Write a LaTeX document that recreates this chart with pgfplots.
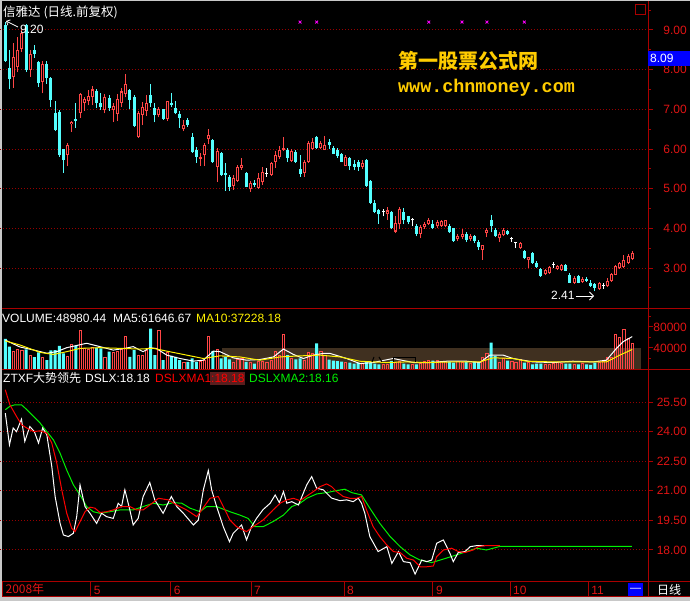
\documentclass[border=0pt]{standalone}
\usepackage{fontspec}
\setmainfont{Liberation Sans}
\newfontfamily\cjk{Noto Sans CJK SC}
\newfontfamily\monob{Liberation Mono}
\usepackage{pgfplots}
\pgfplotsset{compat=1.18}
\usepackage{pgfplotstable}
\usetikzlibrary{arrows.meta}

\definecolor{upred}{RGB}{255,70,70}
\definecolor{dncyan}{RGB}{84,255,255}
\definecolor{axred}{RGB}{170,0,0}
\definecolor{gridred}{RGB}{150,0,0}
\definecolor{lblred}{RGB}{225,20,20}
\definecolor{band}{RGB}{64,48,32}
\definecolor{wmyellow}{RGB}{255,204,0}
\definecolor{lgreen}{RGB}{0,240,0}
\definecolor{mag}{RGB}{255,0,255}
\definecolor{framegray}{RGB}{200,200,200}
\definecolor{boxblue}{RGB}{0,0,255}
\definecolor{hibox}{RGB}{90,30,30}

% i O H L C V   (up / red candles)
\pgfplotstableread{
i O H L C V
2 7.82 8.67 7.54 8.32 33000
3 8.07 8.82 7.94 8.50 37400
4 8.52 9.00 8.45 8.92 34800
6 8.00 8.50 7.82 8.40 26400
9 7.70 8.22 7.40 8.14 21300
15 5.85 6.15 5.57 6.10 23200
16 6.62 6.70 6.43 6.68 47100
18 6.90 7.40 6.78 7.38 72900
19 7.16 7.30 6.96 7.26 39300
20 7.20 7.48 7.10 7.33 38100
21 7.30 7.60 7.10 7.50 40600
24 6.99 7.38 6.90 7.30 22600
26 6.98 7.16 6.68 7.08 31600
27 6.88 7.38 6.70 7.26 32900
28 7.16 7.55 7.05 7.45 38100
29 7.39 7.90 7.30 7.64 61900
32 6.30 6.95 6.28 6.90 26400
33 6.86 7.18 6.60 7.05 26400
34 6.96 7.35 6.84 7.15 36100
37 6.85 7.05 6.80 7.00 72900
39 6.76 7.22 6.70 7.20 31600
43 6.50 6.72 6.45 6.60 13500
47 5.75 5.90 5.57 5.80 14800
48 5.85 6.15 5.57 6.10 16800
49 6.25 6.50 6.13 6.35 61900
51 5.55 6.03 5.17 5.95 38100
55 5.07 5.35 4.97 5.28 13500
56 5.20 5.60 5.18 5.55 18100
57 5.53 5.78 5.48 5.60 20000
59 4.98 5.20 4.92 5.15 13500
61 5.02 5.40 5.00 5.27 14800
62 5.16 5.55 5.10 5.43 14800
64 5.35 5.67 5.33 5.65 16800
65 5.68 5.95 5.53 5.85 34200
66 5.80 6.07 5.75 5.98 26400
67 5.98 6.30 5.95 6.03 66400
69 5.70 6.00 5.68 5.95 20000
72 5.40 5.72 5.30 5.68 16800
73 5.67 6.20 5.65 6.15 31600
74 6.00 6.27 5.98 6.18 29700
76 6.03 6.20 6.00 6.15 32900
77 5.98 6.33 5.97 6.10 25000
82 5.58 5.85 5.57 5.80 13000
86 5.55 5.73 5.50 5.65 11000
92 4.36 4.53 4.22 4.45 8000
94 3.92 4.30 3.88 4.14 12000
95 4.10 4.55 3.98 4.50 14000
100 3.86 4.08 3.75 4.03 10000
101 4.03 4.15 3.98 4.11 14000
102 4.12 4.25 4.08 4.20 16000
104 4.05 4.22 4.00 4.15 17000
105 4.05 4.22 4.03 4.18 14000
106 4.05 4.22 4.03 4.20 15000
109 3.72 3.85 3.67 3.80 14000
110 3.78 3.98 3.72 3.86 12000
112 3.72 3.85 3.67 3.80 11000
115 3.46 3.58 3.21 3.58 23000
116 3.88 4.01 3.78 3.96 30000
119 3.75 3.90 3.66 3.86 13500
120 3.82 4.00 3.80 3.95 20000
124 3.50 3.66 3.48 3.62 18000
126 3.20 3.28 3.00 3.28 12000
130 2.85 2.98 2.82 2.95 8000
131 2.88 3.06 2.86 3.02 8000
133 2.97 3.08 2.95 3.05 12000
134 2.95 3.10 2.93 3.08 11000
137 2.63 2.80 2.60 2.76 8000
139 2.65 2.78 2.63 2.72 10000
143 2.48 2.65 2.45 2.62 12000
145 2.54 2.75 2.52 2.68 22000
146 2.67 2.88 2.65 2.85 23000
147 2.83 3.08 2.82 3.05 66000
148 3.00 3.15 2.98 3.13 60000
149 3.03 3.32 3.00 3.20 75000
150 3.13 3.35 3.10 3.30 59000
151 3.23 3.42 3.20 3.38 48980
}\upT

% down / cyan candles
\pgfplotstableread{
i O H L C V
0 9.13 9.20 8.20 8.22 57400
1 8.04 8.50 7.50 7.77 42600
5 9.12 9.15 7.95 7.99 37400
7 8.50 8.62 8.30 8.40 22600
8 8.20 8.22 7.57 7.67 31600
10 8.14 8.22 7.65 7.80 16800
11 7.80 7.82 7.06 7.24 35500
12 6.90 7.20 6.45 6.48 36100
13 6.94 6.98 5.80 5.85 43900
14 6.00 6.00 5.40 5.72 29700
17 6.75 7.15 6.53 6.70 43900
22 7.47 7.50 7.03 7.16 40600
23 7.16 7.40 6.99 7.06 39300
25 7.29 7.36 6.97 7.04 32900
30 7.49 7.50 7.00 7.24 23200
31 7.32 7.35 6.55 6.58 36100
35 7.36 7.64 7.06 7.16 76800
36 7.03 7.15 6.67 6.85 26400
38 7.00 7.02 6.74 6.75 16800
40 7.16 7.42 7.05 7.12 25200
41 7.03 7.20 6.87 6.90 23200
42 6.88 6.97 6.53 6.78 16800
44 6.74 6.77 6.56 6.60 13500
45 6.30 6.40 5.90 5.93 20000
46 5.98 6.05 5.65 5.80 13500
50 6.23 6.25 5.65 5.67 34200
52 5.90 5.92 5.33 5.35 20000
53 5.40 5.65 4.95 5.35 23200
54 5.30 5.35 4.95 5.05 18100
58 5.40 5.42 5.03 5.05 13500
60 5.14 5.23 5.05 5.10 10300
68 5.97 6.02 5.67 5.78 26400
70 5.93 5.98 5.65 5.68 18100
71 5.50 5.85 5.30 5.37 20000
75 6.30 6.32 6.00 6.03 49000
78 6.17 6.25 6.00 6.10 18000
79 6.02 6.08 5.87 5.88 16000
80 5.97 6.02 5.78 5.83 15000
81 5.88 5.90 5.66 5.68 14000
83 5.77 5.80 5.47 5.58 12000
84 5.63 5.73 5.47 5.55 10000
85 5.66 5.73 5.45 5.55 12000
87 5.72 5.74 5.05 5.07 14000
88 5.20 5.22 4.62 4.64 12000
89 4.64 4.72 4.38 4.42 10000
90 4.47 4.48 4.12 4.35 9000
93 4.42 4.44 3.98 4.00 15000
96 4.40 4.52 4.10 4.22 10000
97 4.30 4.32 4.10 4.15 9000
99 4.07 4.12 3.80 3.86 9000
103 4.12 4.20 3.98 4.00 16000
107 4.05 4.10 3.88 3.90 14000
108 4.00 4.02 3.66 3.68 12000
111 3.86 3.90 3.65 3.70 14000
113 3.80 3.83 3.62 3.68 14000
114 3.66 3.71 3.46 3.53 12000
117 4.20 4.34 3.90 4.05 50000
118 3.97 4.00 3.78 3.80 25000
121 3.93 3.95 3.83 3.85 16000
125 3.42 3.45 3.22 3.24 12000
127 3.38 3.40 3.11 3.13 9000
128 3.12 3.18 3.00 3.03 10000
129 2.97 2.99 2.78 2.80 10000
135 3.08 3.10 2.92 2.93 10000
136 2.83 2.87 2.62 2.63 10000
138 2.80 2.82 2.61 2.63 9000
140 2.72 2.78 2.65 2.68 9000
141 2.62 2.70 2.52 2.55 8000
142 2.60 2.62 2.41 2.50 12000
}\dnT

% unchanged (doji) candles
\pgfplotstableread{
i O H L C V
63 5.37 5.52 5.30 5.37 13500
91 4.40 4.50 4.30 4.40 8000
98 4.20 4.25 4.05 4.20 8000
122 3.72 3.78 3.65 3.72 14000
123 3.62 3.66 3.50 3.62 12000
132 3.08 3.15 3.00 3.08 10000
144 2.55 2.62 2.48 2.55 15000
}\flT

\pgfplotsset{
  panel/.style={
    scale only axis, width=648pt, anchor=south west,
    xmin=-1.276, xmax=154.8,
    axis line style={draw=none},
    xtick=\empty,
    ytick pos=right, yticklabel pos=right,
    tick align=outside,
    major tick length=5pt, minor tick length=3pt,
    tick style={axred, line width=1pt},
    yticklabel style={anchor=east, inner sep=0pt, text=lblred,
      font=\fontsize{12}{14}\selectfont, xshift=34pt},
    /pgf/number format/assume math mode=true,
    major grid style={gridred, line width=1pt, dash pattern=on 1pt off 2pt},
  },
  wick/.style={draw=none, mark=none, forget plot,
    error bars/.cd, y dir=plus, y explicit, error mark=none,
    error bar style={draw=#1, line width=1pt}},
  body/.style={draw=none, mark=none, forget plot,
    error bars/.cd, y dir=plus, y explicit, error mark=none,
    error bar style={draw=#1, line width=3pt}},
  hollow/.style={draw=none, mark=none, forget plot,
    error bars/.cd, y dir=plus, y explicit, error mark=none,
    error bar style={draw=black, line width=1pt}},
}

\begin{document}
\begin{tikzpicture}
\useasboundingbox (0pt,0pt) rectangle (690pt,601pt);
\fill[framegray] (0pt,0pt) rectangle (690pt,601pt);
\fill[black] (2pt,4pt) rectangle (690pt,600pt);

% ---------------- price panel ----------------
\begin{axis}[panel, at={(0pt,292pt)}, height=308pt,
  ymin=1.967, ymax=9.731,
  ytick={3,4,5,6,7,8,9}, minor ytick={2.5,3.5,4.5,5.5,6.5,7.5,8.5,9.5},
  ymajorgrids,
  yticklabel style={/pgf/number format/.cd, fixed, fixed zerofill, precision=2}]
\addplot[wick=upred] table[x=i, y=L, y error expr=\thisrow{H}-\thisrow{L}] {\upT};
\addplot[wick=dncyan] table[x=i, y=L, y error expr=\thisrow{H}-\thisrow{L}] {\dnT};
\addplot[wick=white] table[x=i, y=L, y error expr=\thisrow{H}-\thisrow{L}] {\flT};
\addplot[body=upred] table[x=i, y=O, y error expr=\thisrow{C}-\thisrow{O}] {\upT};
\addplot[hollow] table[x=i, y expr=\thisrow{O}+0.026, y error expr={max(\thisrow{C}-\thisrow{O}-0.052,0)}] {\upT};
\addplot[body=dncyan] table[x=i, y=C, y error expr=\thisrow{O}-\thisrow{C}] {\dnT};
\addplot[body=white] table[x=i, y=C, y error expr=0.026] {\flT};
\addplot[only marks, mark=x, mark size=2pt, mag, line width=0.8pt]
  coordinates {(71,9.2) (75,9.2) (102,9.2) (110,9.2) (116,9.2) (125,9.2)};
\end{axis}

% ---------------- volume panel ----------------
\begin{axis}[panel, at={(0pt,232pt)}, height=60pt,
  ymin=0, ymax=114300,
  ytick={40000,80000}, minor ytick={20000,60000,100000},
  scaled y ticks=false,
  yticklabel style={/pgf/number format/.cd, fixed, 1000 sep={}}]
\addplot[fill=band, draw=none, forget plot] coordinates {(52.2,40000) (153.1,40000)} \closedcycle;
\addplot[ybar, bar width=3pt, bar shift=0pt, draw=none, fill=dncyan] table[x=i, y=V] {\dnT};
\addplot[ybar, bar width=2.2pt, bar shift=0pt, draw=upred, line width=0.8pt, fill=none] table[x=i, y=V] {\upT};
\addplot[ybar, bar width=2.2pt, bar shift=0pt, draw=upred, line width=0.8pt, fill=none] table[x=i, y=V] {\flT};
\addplot[white, line width=1pt, mark=none] coordinates {
(0,55000) (3.5,42000) (6.9,36000) (10,30000) (12.4,33000) (14.8,40600) (19.6,49000)
(22.8,42600) (26,36000) (28.8,39300) (30.8,42600) (33.2,33000) (34.8,40600) (36.4,39000)
(38.9,26400) (42.1,20000) (45.3,15000) (47.7,16800) (50.1,34000) (51.7,33000) (54.9,21300)
(58.1,16800) (61.3,18000) (64.6,23000) (67,38000) (69.4,27700) (71.8,20000) (74.2,26400)
(76.6,29700) (78.2,29700) (82.2,20000) (85.4,10300) (88.6,12300) (93.4,20000) (98.3,12300)
(102.3,12300) (106.3,14800) (111.1,14800) (114.3,12300) (116.7,26400) (119.9,26400)
(122.3,20000) (127.1,13500) (131.9,12300) (136.7,14800) (141.6,13500) (144.8,16800)
(147.2,39300) (148.8,52000) (151,61647)};
\addplot[yellow, line width=1pt, mark=none] coordinates {
(0,53500) (3.5,45800) (8.4,31600) (11.6,27700) (14.8,33000) (18,39300) (22.8,40600)
(27.6,39300) (32.4,38000) (35.7,39300) (38.9,34000) (43.7,26400) (47.7,20000) (51.7,25000)
(56.5,23000) (61.3,16800) (66.2,23000) (71,25000) (75.8,26400) (80.6,23000) (85.4,14800)
(91.8,12300) (96.7,13500) (101.5,12300) (107.9,13500) (114.3,13500) (117.5,21300)
(122.3,20000) (125.6,14800) (131.9,13500) (139.9,13500) (144.8,13500) (148,26400) (151,37228)};
\end{axis}

% ---------------- indicator panel ----------------
\begin{axis}[panel, at={(0pt,19pt)}, height=212pt,
  ymin=16.378, ymax=27.123,
  ytick={18,19.5,21,22.5,24,25.5},
  ymajorgrids,
  yticklabel style={/pgf/number format/.cd, fixed, fixed zerofill, precision=2}]
\addplot[lgreen, line width=1pt, mark=none] coordinates {
(0,25.11) (1.1,25.28) (2.3,25.36) (3.9,25.36) (5.2,25.11) (6.8,24.77) (8.4,24.43) (10,24.0)
(11.6,23.58) (13.2,22.9) (14.8,22.05) (16.4,21.3) (18,20.79) (19.6,20.2) (21.2,19.94)
(22.8,19.86) (25.2,19.94) (27.6,20.03) (30.8,20.03) (33.2,20.2) (35.6,20.37) (38,20.28)
(40.5,20.4) (42.5,20.37) (44.5,20.12) (46.9,19.94) (48.5,20.2) (50.9,20.2) (54.1,19.94)
(56.5,19.77) (58.5,19.6) (60.1,19.18) (62.1,19.18) (64.5,19.44) (67,19.77) (69,20.2)
(71,20.37) (72.6,20.62) (75,20.84) (77.4,20.91) (79.8,21.01) (81.8,21.08) (83.4,20.91)
(85.8,20.79) (87.8,20.12) (90.2,19.35) (92.7,18.68) (95.1,18.17) (97.5,17.75) (99.9,17.49)
(102.7,17.36) (105.5,17.54) (108.7,17.75) (111.1,17.92) (113.5,18.09) (115.9,18.0)
(117.5,18.09) (119.1,18.18) (150.9,18.18)};
\addplot[white, line width=1pt, mark=none] coordinates {
(0,24.94) (1,23.33) (1.9,24.18) (2.7,24.0) (3.9,24.63) (4.7,23.5) (5.9,24.26) (7,24.0)
(8,23.42) (9,24.18) (10,23.84) (11.2,22.23) (12,20.71) (13.2,19.35) (14,18.76) (15.2,18.68)
(16.4,18.85) (17.2,19.69) (18,21.3) (19.2,20.2) (20.4,19.86) (22,19.35) (23.2,19.86)
(24.4,19.69) (26,19.6) (27.2,20.37) (28,20.2) (28.8,21.05) (30,20.03) (30.8,19.27) (32,19.6)
(33.2,20.71) (34.8,21.42) (36,20.54) (38,19.86) (40,20.71) (41.3,20.2) (42.9,19.86)
(45.3,19.27) (46.5,19.52) (47.7,21.05) (48.9,22.03) (49.7,21.05) (50.9,20.2) (52.5,19.18)
(54,18.42) (54.9,18.85) (56.9,19.27) (58.1,18.51) (59.3,19.18) (60.5,19.6) (62.1,20.05)
(63.8,20.37) (65,20.79) (66,20.4) (67,20.96) (67.8,20.37) (69,20.45) (70.6,20.28)
(72.6,21.3) (73.8,21.72) (75,21.13) (76.6,21.05) (78.6,20.63) (80.6,20.5) (82.2,20.54)
(83.8,20.45) (85,20.63) (85.8,20.37) (86.6,19.86) (87.8,18.68) (89.8,17.92) (91.9,18.17)
(93.1,17.32) (94.7,17.92) (95.9,17.41) (97.5,17.36) (98.7,16.78) (100.3,17.49) (101.5,17.41)
(102.7,17.49) (103.9,18.34) (105.5,18.51) (107.1,17.83) (107.9,17.41) (109.1,17.87)
(110.7,17.92) (112,18.17) (113.5,18.22) (115.5,18.22)};
\addplot[red, line width=1pt, mark=none] coordinates {
(0,26.12) (1.1,25.36) (2.7,24.77) (3.9,24.35) (5.2,24.18) (6.8,24.0) (8.4,24.04) (10,23.92)
(11.2,23.42) (12.4,22.4) (13.6,21.05) (14.8,19.86) (16,19.1) (16.8,18.93) (18,19.44)
(19.2,19.94) (20.4,20.17) (21.6,20.12) (22.8,19.9) (24.4,19.94) (26,20.03) (28,20.2)
(30,20.2) (31.6,20.03) (33.2,20.03) (34.8,20.28) (36.9,20.62) (39.3,20.54) (41.3,20.28)
(43.7,20.03) (46.1,19.69) (47.3,20.03) (49.3,20.62) (51.3,20.71) (52.5,20.2) (54.1,19.52)
(55.7,19.18) (58.1,18.93) (59.7,19.18) (62.1,19.52) (64.5,20.03) (66.2,20.37) (67.8,20.54)
(69.4,20.62) (71,20.5) (74.2,20.96) (75.8,21.21) (77.4,21.35) (78.6,21.21) (79.8,20.96)
(81.4,20.71) (83,20.62) (84.6,20.62) (85.8,20.71) (87,20.03) (88.6,19.18) (90.2,18.68)
(91.9,18.25) (93.5,17.92) (95.1,17.87) (96.7,17.58) (98.3,17.49) (99.9,17.15) (101.5,17.15)
(103.1,17.19) (103.9,17.66) (105.5,18.0) (107.5,18.09) (109.1,17.92) (110.7,17.87)
(112.7,18.0) (113.9,18.17) (115.5,18.22) (119.1,18.22)};
\end{axis}

% ---------------- month strip ----------------
\begin{axis}[at={(0pt,4pt)}, anchor=south west, scale only axis, width=648pt, height=15pt,
  xmin=-1.276, xmax=154.8, ymin=0, ymax=1,
  axis line style={draw=none}, ytick=\empty,
  xtick={-0.7,20.57,39.84,59.18,81.58,103.0,121.56,140.4},
  xticklabels={{\cjk 2008年},5,6,7,8,9,10,11},
  xtick pos=bottom, tick align=inside, major tick length=15pt,
  tick style={axred, line width=1pt},
  xticklabel style={anchor=south west, inner sep=0pt, text=lblred,
    font=\fontsize{12}{14}\selectfont, xshift=3pt, yshift=2pt}]
\addplot[draw=none, mark=none] coordinates {(0,0.5)};
\end{axis}

% ---------------- frame lines ----------------
\begin{scope}[x=1pt,y=1pt]
\draw[axred, line width=1pt] (2,292) -- (690,292);
\draw[axred, line width=1pt] (2,231.5) -- (690,231.5);
\draw[axred, line width=1pt] (2,19) -- (690,19);
\draw[axred, line width=1pt] (2,4.5) -- (690,4.5);
\draw[axred, line width=1pt] (648,4) -- (648,600);
\draw[axred, line width=1pt] (635,586) rectangle (645,596);
% small drawn marks over the volume band
\draw[black, line width=1pt] (393,239) -- (393,243) -- (415,243) -- (415,239);
\draw[black, line width=1pt] (374,244) -- (372,239) (379,244) -- (382,239);

% ---------------- texts ----------------
\node[anchor=west, inner sep=0, white, font=\cjk\fontsize{12.5}{14}\selectfont] at (3,589) {信雅达 (日线.前复权)};
\node[anchor=base west, inner sep=0, white, font=\fontsize{12}{14}\selectfont] at (20,567) {9.20};
\draw[white, line width=0.8pt, -{Straight Barb[length=3pt]}] (18,574) -- (6,580);
\node[anchor=base west, inner sep=0, white, font=\fontsize{12}{14}\selectfont] at (551,301) {2.41};
\draw[white, line width=0.8pt, -{Straight Barb[length=4pt]}] (576,305) -- (594,305);

\node[anchor=west, inner sep=0, wmyellow, font=\cjk\bfseries\fontsize{20}{22}\selectfont] at (398,540) {第一股票公式网};
\node[anchor=base west, inner sep=0, wmyellow, font=\monob\bfseries\fontsize{18.4}{20}\selectfont] at (398,508) {www.chnmoney.com};

\fill[boxblue] (648,535) rectangle (690,550);
\node[anchor=west, inner sep=0, white, font=\fontsize{12}{14}\selectfont] at (650,542.5) {8.09};

\node[anchor=west, inner sep=0, white, font=\fontsize{12}{14}\selectfont] at (2,283) {VOLUME:48980.44};
\node[anchor=west, inner sep=0, white, font=\fontsize{12}{14}\selectfont] at (113,283) {MA5:61646.67};
\node[anchor=west, inner sep=0, yellow, font=\fontsize{12}{14}\selectfont] at (196,283) {MA10:37228.18};

\fill[hibox] (210,216) rectangle (245,229);
\node[anchor=west, inner sep=0, white, font=\fontsize{12}{14}\selectfont] at (3,223) {ZTXF{\cjk 大势领先}};
\node[anchor=west, inner sep=0, white, font=\fontsize{12}{14}\selectfont] at (85,223) {DSLX:18.18};
\node[anchor=west, inner sep=0, red, font=\fontsize{12}{14}\selectfont] at (155,223) {DSLXMA1:18.18};
\node[anchor=west, inner sep=0, lgreen, font=\fontsize{12}{14}\selectfont] at (249,223) {DSLXMA2:18.16};

\fill[boxblue] (628,5) rectangle (643,18);
\node[inner sep=0, white, font=\fontsize{11}{12}\selectfont] at (635.5,11.5) {---};
\node[anchor=west, inner sep=0, white, font=\cjk\fontsize{12}{14}\selectfont] at (657,11.5) {日线};
\end{scope}
\end{tikzpicture}
\end{document}
